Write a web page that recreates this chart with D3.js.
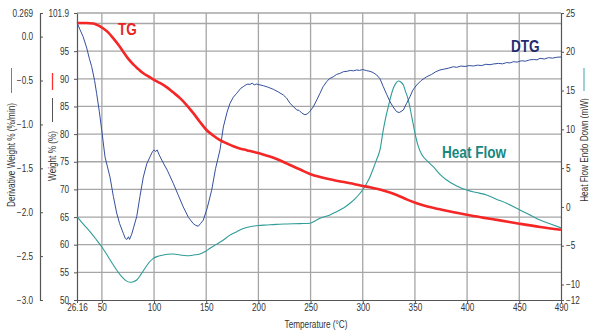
<!DOCTYPE html>
<html><head><meta charset="utf-8">
<script src="https://cdn.jsdelivr.net/npm/d3@7"></script>
<style>
html,body{margin:0;padding:0;background:#fff;}
svg{display:block;font-family:"Liberation Sans",Arial,sans-serif;}
</style></head>
<body>
<svg id="chart" width="589" height="336"></svg>
<script>
// ---- data ----
const xTicks = [26.16, 50, 100, 150, 200, 250, 300, 350, 400, 450, 490];
const weightTicks = [50, 55, 60, 65, 70, 75, 80, 85, 90, 95, 101.9];
const weightGrid = [55, 60, 65, 70, 75, 80, 85, 90, 95, 100];
const derivTicks = [-3.0, -2.5, -2.0, -1.5, -1.0, -0.5, 0.0, 0.269];
const heatTicks = [-12, -10, -5, 0, 5, 10, 15, 20, 25];
const gridTemps = [50, 100, 150, 200, 250, 300, 350, 400, 450];

const tgTemp = [26.16,35,41.8,46,51.4,56,61,66,70.5,75,80.1,85,89.7,95,100,106,112,118,124.9,131,137.6,144,150.5,157,163.2,170,176,182,188.8,195,201.5,210,217.5,227,235,240,249.4,260,271.8,288,303.8,319.7,332.5,342,351.7,362,374,386,399.6,415,431.5,450,469.9,490];
const tgWeight = [100.1,100.1,100.0,99.7,99.1,98.4,97.3,96.1,94.9,93.7,92.6,91.75,91.0,90.4,89.8,89.2,88.5,87.6,86.5,85.3,83.8,82.2,80.7,79.7,78.9,78.3,77.8,77.4,77.1,76.8,76.5,76.0,75.5,74.7,74.0,73.6,72.8,72.2,71.7,71.1,70.5,69.8,69.0,68.2,67.5,66.9,66.4,65.9,65.4,64.9,64.4,63.8,63.2,62.7];

const dtgTemp = [26.16,29,32,35.5,38,40.2,43,45,47.5,49.8,53,57.8,61,64.2,67,70.5,72.5,74,75.5,76.5,78.6,80.5,83.4,86.5,89.7,93,96.1,98.5,100,101.5,103,105,108.9,113,118.4,123,128,133,137.6,140,142.4,144.5,147.2,151,155.2,159,163.2,166.4,170,172.8,176,179.2,183,185.5,188,190,192,194,196,198,201.5,205,209,214.3,219,223.9,227,230.3,233,236.7,239,241.5,244.6,247,249.4,252.6,256,259,262,265.4,268,271.8,275,278,281.4,285,288,291,294.2,297,300,303.8,307,310,313.4,316.5,319.7,323,326.1,329,332.5,335,338.9,342,345.3,348,351.7,356,361.3,366,370,374,378,382,386.8,390,394,398,402,406,410,414,418,422,425.1,430,434,438,441,444.3,448,452,456,460,463.5,467,469.9,474,478,482,486,490];
const dtgDeriv = [0.16,0.08,0.0,-0.13,-0.25,-0.34,-0.5,-0.65,-0.85,-1.06,-1.37,-1.6,-1.82,-2.01,-2.13,-2.24,-2.30,-2.31,-2.28,-2.31,-2.25,-2.17,-2.05,-1.82,-1.6,-1.45,-1.37,-1.31,-1.29,-1.31,-1.29,-1.35,-1.44,-1.53,-1.67,-1.8,-1.94,-2.06,-2.13,-2.15,-2.16,-2.13,-2.09,-1.95,-1.75,-1.5,-1.29,-1.03,-0.86,-0.76,-0.69,-0.646,-0.59,-0.57,-0.55,-0.54,-0.545,-0.53,-0.55,-0.54,-0.55,-0.56,-0.575,-0.60,-0.63,-0.665,-0.7,-0.76,-0.79,-0.835,-0.84,-0.87,-0.89,-0.88,-0.85,-0.8,-0.72,-0.646,-0.57,-0.514,-0.48,-0.457,-0.43,-0.42,-0.40,-0.395,-0.385,-0.39,-0.38,-0.385,-0.375,-0.388,-0.395,-0.41,-0.437,-0.48,-0.57,-0.66,-0.74,-0.80,-0.855,-0.865,-0.836,-0.76,-0.684,-0.61,-0.551,-0.5,-0.457,-0.43,-0.40,-0.38,-0.37,-0.36,-0.343,-0.35,-0.335,-0.34,-0.33,-0.335,-0.325,-0.33,-0.315,-0.32,-0.312,-0.305,-0.31,-0.295,-0.3,-0.286,-0.29,-0.275,-0.28,-0.265,-0.26,-0.265,-0.247,-0.255,-0.24,-0.245,-0.235,-0.232];

const hfTemp = [26.16,32,38.6,44,49.8,55,61,65,69,73,77,80,83.4,87,91.3,95,99.3,104,108.9,113,118.4,125,131.3,138,144,149,153.6,160,166.4,172,179.2,185,192,200,207.9,217,227.1,239.9,249.4,255,259,268.6,275,282,287.8,293,297.4,301,303.8,307,310.2,313,316.5,319.7,322,324.5,327,329.3,331.5,334.1,336.5,338.9,341,343.7,347,350.1,353,356.4,362,367.6,374,380.4,390,399.6,409,418.7,428,437.9,447,457.1,464,469.9,480,490];
const hfHeat = [-1.26,-2.2,-3.19,-4.1,-5.13,-6.2,-7.49,-8.3,-9.0,-9.5,-9.72,-9.65,-9.42,-8.8,-7.91,-7.2,-6.63,-6.35,-6.2,-6.1,-6.07,-6.2,-6.29,-6.2,-6.07,-5.75,-5.33,-4.8,-4.26,-3.7,-3.19,-2.8,-2.55,-2.4,-2.33,-2.25,-2.2,-2.15,-2.1,-1.75,-1.47,-1.04,-0.61,-0.1,0.47,1.1,1.76,2.4,3.05,3.9,4.98,6.0,7.34,9.92,11.5,12.92,14.3,15.29,15.9,16.23,16.1,15.72,14.9,13.78,11.6,9.49,7.9,6.8,5.9,5.19,4.2,3.47,2.7,2.18,1.85,1.54,1.0,0.47,-0.15,-0.82,-1.3,-1.69,-2.2,-2.7];

// ---- layout ----
const L = 77, R = 561, T = 13, B = 300;
const SX = 0.82;
const svg = d3.select("#chart");

const x = d3.scaleLinear().domain([26.16, 490]).range([L, R]);
const yW = d3.scaleLinear().domain([50, 101.9]).range([B, T]);
const yD = d3.scaleLinear().domain([-3.0, 0.269]).range([B, T]);
const yH = d3.scaleLinear().domain([-12, 25]).range([B, T]);

function condense(sel, s) {
  sel.each(function () {
    const t = d3.select(this);
    const tx = +t.attr("x") || 0;
    t.attr("transform", `translate(${tx},0) scale(${s},1) translate(${-tx},0)`);
  });
}

// grid
const grid = svg.append("g").attr("stroke", "#a6a6a6").attr("stroke-width", 1.3);
grid.selectAll("line.v").data(gridTemps).join("line")
  .attr("x1", d => x(d)).attr("x2", d => x(d)).attr("y1", T).attr("y2", B);
grid.selectAll("line.h").data(weightGrid).join("line")
  .attr("x1", L).attr("x2", R).attr("y1", d => yW(d)).attr("y2", d => yW(d));
grid.append("line").attr("x1", L).attr("x2", R).attr("y1", T).attr("y2", T);

function styleAxis(g) {
  g.select(".domain").attr("stroke", "#555").attr("stroke-width", 1.2);
  g.selectAll(".tick line").attr("stroke", "#555");
  g.selectAll("text").attr("fill", "#333").style("font-size", "10px")
    .style("font-family", '"Liberation Sans", Arial, sans-serif');
}

// x axis
const gx = svg.append("g").attr("transform", `translate(0,${B})`)
  .call(d3.axisBottom(x).tickValues(xTicks).tickSize(3).tickSizeOuter(0)
    .tickFormat(d => d === 26.16 ? "26.16" : d3.format("d")(d)));
styleAxis(gx); gx.selectAll("text").attr("dy", "0.71em").attr("y", 4);
gx.selectAll("text").each(function(){ d3.select(this).attr("transform", `scale(${SX},1)`); });

// weight axis
const gw = svg.append("g").attr("transform", `translate(${L},0)`)
  .call(d3.axisLeft(yW).tickValues(weightTicks).tickSize(3).tickSizeOuter(0)
    .tickFormat(d => d === 101.9 ? "101.9" : d3.format("d")(d)));
styleAxis(gw); gw.selectAll("text").attr("x", -8); condense(gw.selectAll("text"), SX);

// derivative axis
const gd = svg.append("g").attr("transform", `translate(40,0)`)
  .call(d3.axisLeft(yD).tickValues(derivTicks).tickSize(-3).tickSizeOuter(0)
    .tickFormat(d => d === 0.269 ? "0.269" : d3.format(".1f")(d)));
styleAxis(gd); gd.selectAll("text").attr("x", -7); condense(gd.selectAll("text"), SX);

// heat flow axis
const gh = svg.append("g").attr("transform", `translate(${R},0)`)
  .call(d3.axisRight(yH).tickValues(heatTicks).tickSize(3).tickSizeOuter(0)
    .tickFormat(d3.format("d")));
styleAxis(gh); gh.selectAll("text").attr("x", 5); condense(gh.selectAll("text"), SX);

// series
const zip = (a, b) => a.map((v, i) => [v, b[i]]);
svg.append("path").datum(zip(hfTemp, hfHeat))
  .attr("fill", "none").attr("stroke", "#2e9c98").attr("stroke-width", 1.1)
  .attr("d", d3.line().x(d => x(d[0])).y(d => yH(d[1])).curve(d3.curveMonotoneX));
svg.append("path").datum(zip(dtgTemp, dtgDeriv))
  .attr("fill", "none").attr("stroke", "#34509e").attr("stroke-width", 1)
  .attr("d", d3.line().x(d => x(d[0])).y(d => yD(d[1])));
svg.append("path").datum(zip(tgTemp, tgWeight))
  .attr("fill", "none").attr("stroke", "#f42626").attr("stroke-width", 2.6)
  .attr("d", d3.line().x(d => x(d[0])).y(d => yW(d[1])).curve(d3.curveMonotoneX));

// annotations
function label(txt, lx, ly, color, size, s) {
  svg.append("text").text(txt).attr("x", lx).attr("y", ly)
    .attr("fill", color).style("font-size", size + "px").style("font-weight", "bold")
    .attr("transform", `translate(${lx},0) scale(${s},1) translate(${-lx},0)`);
}
label("TG", 118, 35, "#e8231f", 16.5, SX);
label("DTG", 511, 52, "#232c70", 17, 0.8);
label("Heat Flow", 442, 158.5, "#17877f", 17, 0.8);

// axis titles
svg.append("text").text("Temperature (°C)").attr("x", 316).attr("y", 328)
  .attr("text-anchor", "middle").attr("fill", "#333").style("font-size", "10px")
  .attr("transform", `translate(316,0) scale(${SX},1) translate(-316,0)`);

function vtitle(txt, cx, cy) {
  svg.append("text").text(txt)
    .attr("transform", `translate(${cx},${cy}) rotate(-90) scale(${SX},1)`)
    .attr("text-anchor", "middle").attr("dy", "0.35em")
    .attr("fill", "#333").style("font-size", "10px");
}
vtitle("Derivative Weight % (%/min)", 11.5, 155);
vtitle("Weight % (%)", 52.5, 156);
vtitle("Heat Flow Endo Down (mW)", 584, 150);

// legend swatches next to titles
svg.append("line").attr("x1", 11.5).attr("x2", 11.5).attr("y1", 68).attr("y2", 93)
  .attr("stroke", "#6b7db6").attr("stroke-width", 1);
svg.append("line").attr("x1", 52.5).attr("x2", 52.5).attr("y1", 73).attr("y2", 90)
  .attr("stroke", "#ff3030").attr("stroke-width", 1.3);
svg.append("line").attr("x1", 52.5).attr("x2", 52.5).attr("y1", 98).attr("y2", 122)
  .attr("stroke", "#555").attr("stroke-width", 1);
svg.append("line").attr("x1", 584).attr("x2", 584).attr("y1", 68).attr("y2", 91)
  .attr("stroke", "#3aa5a0").attr("stroke-width", 1);
</script>
</body></html>
